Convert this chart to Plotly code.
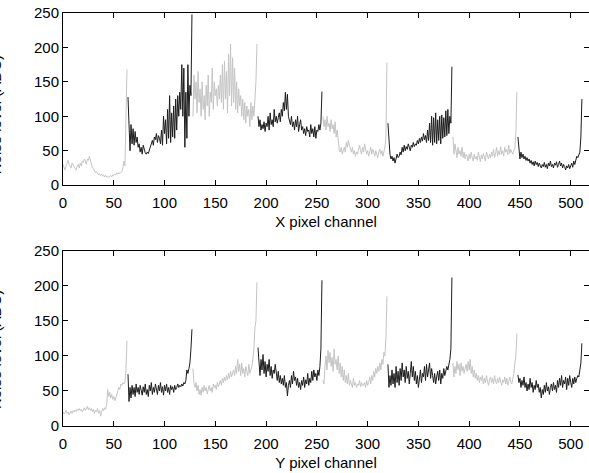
import plotly.graph_objects as go
from plotly.subplots import make_subplots

# ---------------- data: noise per pixel channel, 8 readout blocks of 64 channels ----------------
block_size = 64
x_tick_vals = [0, 50, 100, 150, 200, 250, 300, 350, 400, 450, 500]
y_tick_vals = [0, 50, 100, 150, 200, 250]
x_axis_title = "X pixel channel"
y_axis_title = "Y pixel channel"
y_label = "Noise level (ADC)"

# X strips
x_seg0 = [30, 25, 22, 28, 33, 36, 30, 28, 25, 32, 30, 27, 24, 22, 28, 30, 25, 32, 28, 35,
          33, 38, 35, 30, 38, 36, 42, 35, 28, 25, 24, 20, 18, 20, 17, 15, 17, 14, 16, 13,
          15, 12, 14, 12, 13, 11, 13, 14, 12, 15, 14, 16, 15, 18, 16, 18, 17, 19, 20, 25,
          35, 28, 80, 168]
x_seg1 = [128, 75, 50, 88, 60, 82, 58, 78, 62, 70, 55, 60, 48, 55, 45, 58, 50, 47, 45, 48,
          46, 50, 55, 60, 65, 58, 70, 66, 75, 62, 72, 68, 60, 80, 58, 100, 75, 95, 60, 110,
          68, 130, 62, 105, 70, 115, 68, 125, 80, 130, 100, 135, 110, 175, 100, 170, 55, 135, 68, 175,
          100, 145, 130, 248]
x_seg2 = [100, 160, 125, 150, 105, 165, 120, 140, 100, 150, 110, 130, 95, 145, 115, 160, 100, 135, 120, 170,
          110, 150, 130, 140, 115, 145, 125, 160, 120, 175, 110, 180, 125, 165, 105, 190, 130, 205, 115, 185,
          120, 170, 110, 150, 105, 140, 115, 130, 100, 125, 95, 120, 90, 115, 100, 110, 85, 120, 95, 115,
          100, 125, 150, 205]
x_seg3 = [100, 85, 95, 80, 88, 82, 92, 78, 90, 85, 100, 80, 105, 88, 95, 85, 110, 92, 100, 90,
          98, 105, 92, 110, 100, 120, 108, 135, 110, 132, 100, 95, 88, 100, 85, 92, 80, 95, 85, 100,
          78, 88, 95, 80, 85, 75, 82, 72, 85, 78, 80, 70, 88, 75, 82, 70, 85, 68, 80, 78,
          88, 80, 90, 136]
x_seg4 = [100, 85, 95, 80, 100, 85, 90, 78, 95, 82, 88, 75, 92, 70, 80, 60, 52, 48, 55, 45,
          50, 55, 48, 62, 55, 65, 58, 52, 48, 55, 45, 50, 42, 48, 45, 52, 58, 50, 45, 55,
          48, 60, 52, 45, 50, 42, 48, 55, 45, 52, 48, 42, 50, 46, 40, 48, 52, 45, 50, 42,
          48, 55, 70, 178]
x_seg5 = [90, 60, 45, 38, 42, 35, 40, 32, 38, 45, 40, 42, 48, 44, 55, 48, 58, 50, 56, 52,
          60, 54, 50, 58, 55, 62, 56, 60, 58, 65, 60, 68, 62, 70, 64, 75, 66, 72, 62, 80,
          65, 90, 62, 100, 58, 98, 62, 105, 60, 95, 65, 100, 60, 102, 68, 98, 70, 108, 72, 110,
          75, 100, 90, 172]
x_seg6 = [70, 45, 60, 52, 40, 55, 45, 50, 42, 55, 40, 48, 38, 45, 42, 35, 45, 38, 48, 40,
          35, 45, 38, 42, 36, 48, 40, 34, 44, 38, 46, 40, 35, 48, 42, 38, 45, 40, 48, 42,
          52, 40, 46, 55, 42, 50, 44, 56, 45, 50, 42, 55, 48, 52, 44, 58, 46, 52, 48, 45,
          50, 55, 75, 135]
x_seg7 = [70, 45, 38, 48, 40, 45, 38, 42, 36, 40, 35, 38, 32, 36, 30, 34, 28, 35, 30, 33,
          27, 32, 28, 25, 30, 27, 33, 26, 30, 24, 32, 28, 35, 27, 30, 25, 32, 29, 34, 26,
          30, 35, 28, 32, 25, 30, 27, 22, 28, 25, 30, 24, 28, 32, 26, 35, 30, 38, 42, 40,
          45, 48, 70, 125]

# Y strips
y_seg0 = [20, 17, 19, 22, 18, 20, 16, 19, 21, 18, 22, 20, 23, 21, 24, 22, 25, 22, 24, 20,
          23, 26, 22, 25, 28, 23, 26, 22, 25, 20, 24, 18, 22, 20, 25, 18, 22, 14, 20, 25,
          22, 26, 24, 30, 52, 42, 48, 40, 45, 38, 42, 36, 40, 45, 50, 55, 52, 60, 58, 62,
          60, 62, 80, 122]
y_seg1 = [74, 35, 55, 40, 58, 45, 55, 42, 60, 48, 55, 45, 58, 50, 44, 56, 48, 60, 45, 52,
          42, 58, 50, 62, 45, 55, 48, 60, 52, 45, 58, 50, 62, 48, 56, 44, 58, 50, 60, 48,
          55, 45, 58, 52, 56, 48, 58, 52, 55, 60, 55, 58, 56, 60, 57, 62, 60, 65, 80, 75,
          82, 90, 110, 138]
y_seg2 = [82, 60, 55, 62, 50, 58, 45, 52, 44, 55, 48, 58, 50, 55, 46, 52, 58, 50, 55, 48,
          60, 55, 58, 52, 62, 56, 60, 65, 58, 68, 62, 70, 64, 72, 66, 75, 68, 78, 70, 74,
          80, 72, 85, 75, 95, 78, 88, 72, 90, 75, 82, 70, 85, 78, 72, 88, 75, 80, 85, 95,
          110, 140, 150, 205]
y_seg3 = [112, 85, 72, 95, 80, 102, 75, 92, 70, 88, 78, 95, 72, 85, 68, 80, 75, 88, 70, 65,
          78, 62, 72, 60, 68, 58, 72, 55, 62, 43, 58, 65, 55, 72, 60, 78, 65, 70, 58, 68,
          55, 62, 52, 65, 58, 70, 55, 66, 60, 75, 58, 68, 62, 78, 65, 80, 70, 75, 65, 80,
          72, 85, 110, 208]
y_seg4 = [65, 60, 85, 100, 80, 108, 90, 105, 85, 98, 78, 110, 88, 95, 80, 100, 75, 90, 70, 85,
          65, 80, 62, 72, 60, 75, 58, 65, 60, 55, 68, 58, 62, 55, 60, 58, 65, 56, 62, 58,
          58, 62, 55, 65, 58, 62, 70, 60, 72, 65, 78, 70, 82, 75, 85, 78, 90, 80, 95, 88,
          105, 100, 125, 185]
y_seg5 = [88, 55, 72, 58, 80, 60, 75, 55, 85, 62, 78, 58, 82, 65, 90, 70, 80, 62, 85, 68,
          78, 60, 75, 92, 70, 85, 65, 78, 60, 72, 55, 68, 80, 62, 75, 70, 85, 65, 88, 70,
          78, 90, 68, 82, 72, 62, 75, 60, 70, 78, 65, 80, 60, 75, 68, 82, 72, 78, 85, 80,
          88, 95, 110, 212]
y_seg6 = [90, 70, 85, 75, 92, 80, 88, 72, 90, 78, 85, 75, 82, 88, 78, 92, 80, 95, 75, 85,
          70, 80, 68, 75, 65, 72, 62, 70, 65, 72, 60, 68, 62, 72, 64, 58, 66, 70, 62, 68,
          60, 72, 64, 60, 68, 62, 70, 64, 58, 66, 62, 70, 60, 68, 58, 64, 70, 62, 60, 68,
          75, 90, 100, 132]
y_seg7 = [73, 62, 68, 55, 65, 58, 70, 55, 62, 50, 60, 52, 68, 55, 62, 48, 58, 52, 65, 55,
          60, 48, 55, 40, 52, 45, 58, 48, 62, 50, 56, 45, 55, 60, 50, 62, 52, 58, 48, 65,
          55, 68, 58, 72, 55, 65, 60, 70, 52, 68, 58, 72, 62, 55, 68, 60, 70, 62, 68, 72,
          70, 78, 90, 118]

x_segments = [x_seg0, x_seg1, x_seg2, x_seg3, x_seg4, x_seg5, x_seg6, x_seg7]
y_segments = [y_seg0, y_seg1, y_seg2, y_seg3, y_seg4, y_seg5, y_seg6, y_seg7]

GRAY = "#c4c4c4"
BLACK = "#1c1c1c"

fig = make_subplots(rows=2, cols=1, shared_xaxes=False, vertical_spacing=0.0)

for row, segs in ((1, x_segments), (2, y_segments)):
    for i, seg in enumerate(segs):
        start = i * block_size
        fig.add_trace(
            go.Scatter(
                x=list(range(start, start + len(seg))),
                y=seg,
                mode="lines",
                line=dict(color=GRAY if i % 2 == 0 else BLACK, width=1),
                showlegend=False,
                hoverinfo="x+y",
            ),
            row=row, col=1,
        )

H_TOP = 12.7
H_BOT = 473 - 426
area = 473 - H_TOP - H_BOT
top_dom = [(426 - 185) / area, 1.0]
bot_dom = [0.0, (426 - 250.7) / area]

FONT = "Liberation Sans, Arial, sans-serif"
axis_common = dict(
    showline=True, linecolor="black", linewidth=1, mirror="ticks",
    ticks="inside", ticklen=5, tickcolor="black", tickwidth=1,
    showgrid=False, zeroline=False,
    tickfont=dict(family=FONT, size=15, color="black"),
)

fig.update_xaxes(**axis_common, range=[0, 518], tickvals=x_tick_vals, ticklabelstandoff=4)
fig.update_yaxes(**axis_common, range=[0, 250], tickvals=y_tick_vals)

title_font = dict(family=FONT, size=15, color="black")
fig.update_layout(
    xaxis=dict(domain=[0, 1], title=dict(text=x_axis_title, font=title_font, standoff=6)),
    yaxis=dict(domain=top_dom),
    xaxis2=dict(domain=[0, 1], title=dict(text=y_axis_title, font=title_font, standoff=6)),
    yaxis2=dict(domain=bot_dom),
    width=589, height=473,
    margin=dict(l=63, r=0, t=H_TOP, b=H_BOT),
    paper_bgcolor="white", plot_bgcolor="white",
)

# vertical y-axis labels, mostly clipped by the left page edge as in the original figure
for yc in ((426 - 115) / area, (426 - 350) / area):
    fig.add_annotation(
        text=y_label, xref="paper", yref="paper",
        x=(-5 - 63) / 526, y=yc, xanchor="center", yanchor="middle",
        textangle=-90, showarrow=False,
        font=dict(family=FONT, size=15, color="black"),
    )

fig.write_html("out.html")
